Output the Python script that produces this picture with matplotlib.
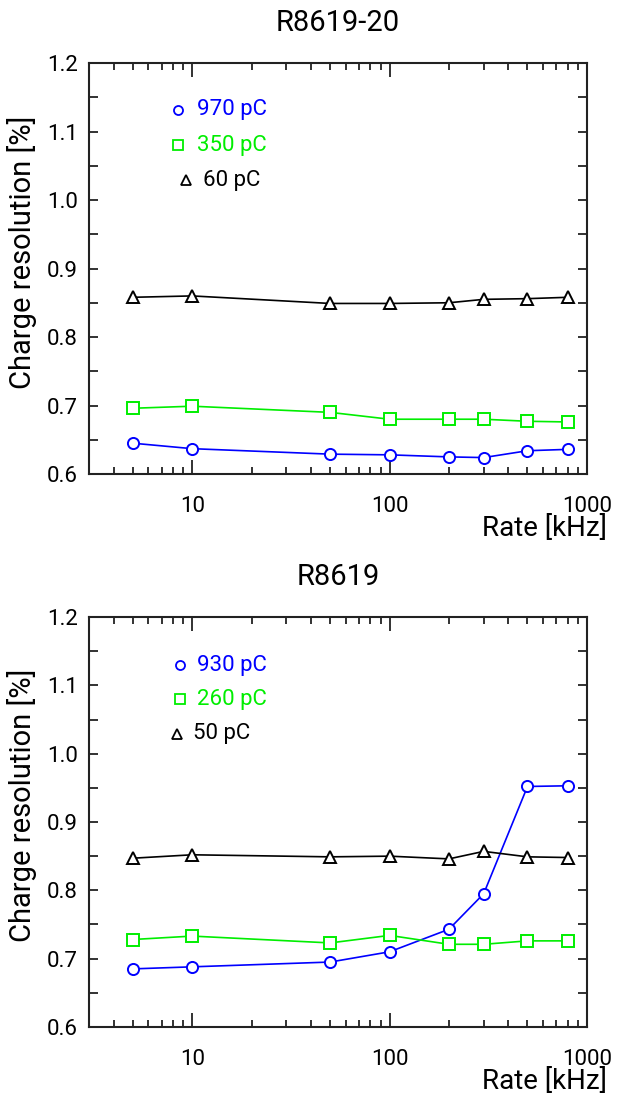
import numpy as np
import matplotlib
matplotlib.use('Agg')
import matplotlib.pyplot as plt

plt.rcParams['font.family'] = ['Roboto', 'DejaVu Sans']

# Rate points [kHz]
rate = [5, 10, 50, 100, 200, 300, 500, 800]

# R8619-20
top_title = 'R8619-20'
top_labels = ['970 pC', '350 pC', '60 pC']
top_blue = [0.645, 0.637, 0.629, 0.628, 0.625, 0.624, 0.634, 0.636]
top_green = [0.696, 0.699, 0.690, 0.680, 0.680, 0.680, 0.677, 0.676]
top_black = [0.858, 0.860, 0.849, 0.849, 0.850, 0.855, 0.856, 0.858]

# R8619
bot_title = 'R8619'
bot_labels = ['930 pC', '260 pC', '50 pC']
bot_blue = [0.685, 0.688, 0.695, 0.710, 0.743, 0.795, 0.952, 0.953]
bot_green = [0.728, 0.733, 0.723, 0.734, 0.721, 0.721, 0.726, 0.726]
bot_black = [0.847, 0.852, 0.849, 0.850, 0.846, 0.857, 0.849, 0.848]

yticks = [0.6, 0.7, 0.8, 0.9, 1.0, 1.1, 1.2]
colors = ['#0000ff', '#00ee00', 'black']
markers = ['o', 's', '^']


def draw_panel(ax, title, labels, series, legend_pos):
    for y, c, m in zip(series, colors, markers):
        ax.plot(rate, y, color=c, marker=m, markersize=8, markerfacecolor='white',
                markeredgecolor=c, markeredgewidth=1.4, linewidth=1.2)
    ax.set_xscale('log')
    ax.set_xlim(3, 1000)
    ax.set_ylim(0.6, 1.2)
    ax.set_yticks(yticks)
    ax.set_yticklabels([f'{v:.1f}' for v in yticks])
    ax.set_yticks(np.arange(0.65, 1.2, 0.1), minor=True)
    ax.set_xticks([10, 100, 1000])
    ax.set_xticklabels(['10', '100', '1000'])
    ax.tick_params(which='both', direction='in', top=True, right=True,
                   labelsize=16, width=1.3, color='#222222')
    ax.tick_params(axis='x', which='major', length=10, pad=16)
    ax.tick_params(axis='x', which='minor', length=5)
    ax.tick_params(axis='y', which='both', length=6.5, pad=8)
    for s in ax.spines.values():
        s.set_linewidth(1.5)
        s.set_color('#222222')
    ax.set_title(title, fontsize=21, pad=23)
    ax.set_ylabel('Charge resolution [%]', fontsize=21)
    ax.yaxis.set_label_coords(-0.105, 0.54)
    ax.set_xlabel('Rate [kHz]', fontsize=20, loc='right')
    ax.xaxis.set_label_coords(1.04, -0.1)
    # hand-placed legend
    for (mx, tx, ty), lab, c, m in zip(legend_pos, labels, colors, markers):
        ax.plot([mx], [ty], transform=ax.transAxes, marker=m, markersize=6.5,
                markerfacecolor='white', markeredgecolor=c, markeredgewidth=1.3,
                linestyle='none', clip_on=False)
        ax.text(tx, ty, lab, transform=ax.transAxes, color=c, fontsize=16,
                va='center', ha='left')


fig = plt.figure(figsize=(6.27, 10.96), dpi=100)
ax1 = fig.add_axes([0.142, 0.5675, 0.794, 0.375])
ax2 = fig.add_axes([0.142, 0.063, 0.794, 0.374])

draw_panel(ax1, top_title, top_labels, [top_blue, top_green, top_black],
           [(0.179, 0.217, 0.886), (0.179, 0.217, 0.80), (0.195, 0.229, 0.715)])
draw_panel(ax2, bot_title, bot_labels, [bot_blue, bot_green, bot_black],
           [(0.183, 0.217, 0.883), (0.183, 0.217, 0.80), (0.177, 0.209, 0.715)])

fig.savefig('out.png', dpi=100)
